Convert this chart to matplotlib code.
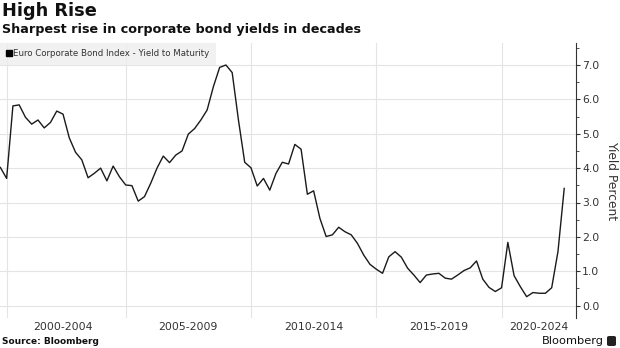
import numpy as np
import matplotlib.pyplot as plt
from matplotlib.lines import Line2D
from matplotlib.ticker import MultipleLocator
from matplotlib.patches import FancyBboxPatch

# ---------------------------------------------------------------------------
# Data: Euro corporate bond index yield to maturity, quarterly from 2000
# ---------------------------------------------------------------------------
START_YEAR = 2000.0
yields = [
    4.02, 3.70, 5.81, 5.84, 5.48, 5.28, 5.40, 5.17, 5.33, 5.66,
    5.57, 4.88, 4.46, 4.24, 3.72, 3.85, 4.00, 3.63, 4.06, 3.75,
    3.51, 3.49, 3.04, 3.17, 3.56, 4.00, 4.35, 4.16, 4.38, 4.50,
    4.99, 5.15, 5.40, 5.69, 6.37, 6.93, 7.00, 6.78, 5.40, 4.17,
    4.01, 3.48, 3.70, 3.36, 3.85, 4.17, 4.12, 4.69, 4.55, 3.24,
    3.34, 2.54, 2.01, 2.06, 2.28, 2.15, 2.06, 1.81, 1.47, 1.20,
    1.06, 0.94, 1.42, 1.57, 1.41, 1.09, 0.89, 0.67, 0.89, 0.92,
    0.94, 0.80, 0.77, 0.89, 1.02, 1.10, 1.30, 0.77, 0.53, 0.41,
    0.52, 1.84, 0.87, 0.55, 0.26, 0.38, 0.36, 0.36, 0.52, 1.57,
    3.41,
]
period_labels = ["2000-2004", "2005-2009", "2010-2014", "2015-2019", "2020-2024"]
period_starts = [2000, 2005, 2010, 2015, 2020]
series_name = "Euro Corporate Bond Index - Yield to Maturity"

years = START_YEAR + np.arange(len(yields)) / 4.0

W, H = 620, 348
fig = plt.figure(figsize=(W / 100, H / 100), dpi=100)
ax = fig.add_axes([0 / W, 1 - 318 / H, 576 / W, (318 - 43) / H])

ax.plot(years, yields, color="#1a1a1a", linewidth=1.0, zorder=3)

xmin, xmax = 1999.985, 2022.97
ax.set_xlim(xmin, xmax)
ax.set_ylim(-0.36, 7.64)

# gridlines
for v in range(0, 8):
    ax.axhline(v, color="#e4e4e4", linewidth=0.8, zorder=1)
grid_x = [2000.25] + period_starts[1:]
for gx in grid_x:
    ax.axvline(gx, color="#e4e4e4", linewidth=0.8, zorder=1)

# right axis
ax.yaxis.tick_right()
ax.yaxis.set_label_position("right")
ax.yaxis.set_major_locator(MultipleLocator(1.0))
ax.yaxis.set_minor_locator(MultipleLocator(0.5))
ax.set_yticks(np.arange(0, 8))
ax.set_yticklabels([f"{v:.1f}" for v in range(0, 8)])
ax.tick_params(axis="y", which="major", length=3, width=0.8, color="#333333",
               labelsize=7.8, labelcolor="#333333", pad=1.5)
ax.tick_params(axis="y", which="minor", length=2, width=0.6, color="#333333")
ax.set_ylabel("Yield Percent", rotation=270, fontsize=8.8, color="#333333",
              labelpad=13)

for side in ["top", "left", "bottom"]:
    ax.spines[side].set_visible(False)
ax.spines["right"].set_color("#333333")
ax.spines["right"].set_linewidth(0.8)

# period labels centred in each (visible) period
centers = [(s + min(s + 5, xmax)) / 2 for s in period_starts]
ax.set_xticks(centers)
ax.set_xticklabels(period_labels)
ax.tick_params(axis="x", length=0, labelsize=7.8, labelcolor="#333333", pad=3)

# legend
handle = Line2D([], [], marker="s", linestyle="none", color="black", markersize=4)
leg = ax.legend([handle], [series_name], loc="upper left", bbox_to_anchor=(0, 1.0),
                borderaxespad=0, frameon=True, fancybox=False, fontsize=6.2,
                handlelength=0.5, handletextpad=0.3, borderpad=0.75,
                labelcolor="#333333")
leg.get_frame().set_facecolor("#eeeeee")
leg.get_frame().set_edgecolor("none")
leg.set_zorder(5)

# titles
fig.text(2 / W, 1 - 2 / H, "High Rise", fontsize=12.8, fontweight="bold",
         va="top", ha="left", color="#111111")
fig.text(2 / W, 1 - 23 / H, "Sharpest rise in corporate bond yields in decades",
         fontsize=9.2, fontweight="bold", va="top", ha="left", color="#111111")

# footer
fig.text(2 / W, 1 - 341 / H, "Source: Bloomberg", fontsize=6.5, fontweight="bold",
         va="center", ha="left", color="#111111")
fig.text(604 / W, 1 - 341 / H, "Bloomberg", fontsize=8.2, va="center", ha="right",
         color="#111111")
fig.patches.append(FancyBboxPatch((607 / W, 1 - 346 / H), 9 / W, 10 / H,
                                  boxstyle="round,pad=0,rounding_size=0.004",
                                  transform=fig.transFigure, facecolor="#222222",
                                  edgecolor="none"))

fig.savefig("out.png", dpi=100)
